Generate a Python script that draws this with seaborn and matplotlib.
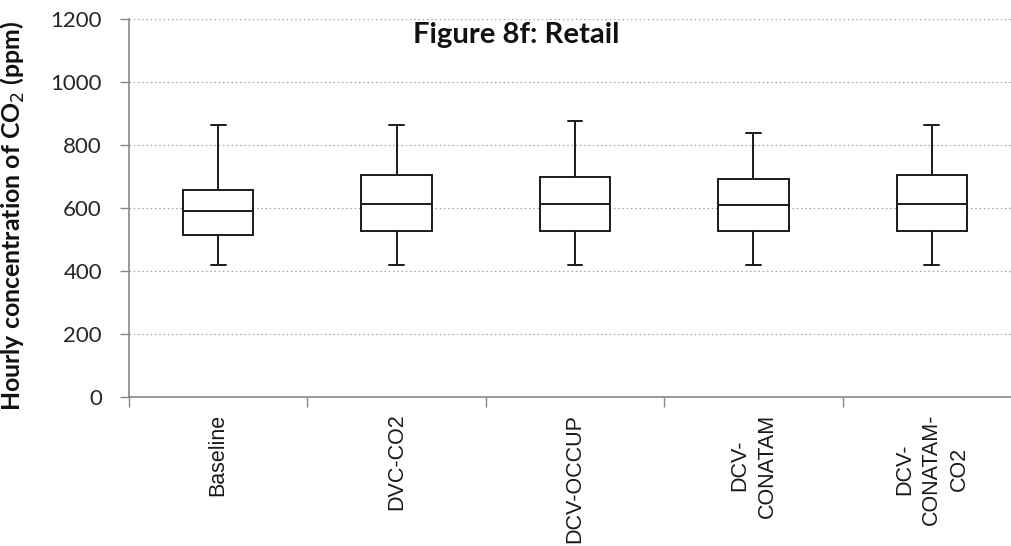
import matplotlib
matplotlib.use("Agg")
import matplotlib.pyplot as plt
import seaborn as sns
import pandas as pd
from matplotlib.ticker import FixedLocator

# ---- data (min, Q1, median, Q3, max) ----
categories = ["Baseline", "DVC-CO2", "DCV-OCCUP", "DCV-\nCONATAM", "DCV-\nCONATAM-\nCO2"]
baseline = [418, 514, 590, 656, 864]
dvc_co2 = [418, 528, 614, 705, 864]
dcv_occup = [418, 528, 614, 700, 875]
dcv_conatam = [418, 528, 609, 691, 839]
dcv_conatam_co2 = [418, 528, 614, 705, 864]
series = [baseline, dvc_co2, dcv_occup, dcv_conatam, dcv_conatam_co2]
yticks = [0, 200, 400, 600, 800, 1000, 1200]
title = "Figure 8f: Retail"
ylabel = "Hourly concentration of CO$_2$ (ppm)"

rows = []
for cat, vals in zip(categories, series):
    for v in vals:
        rows.append({"cat": cat, "val": v})
df = pd.DataFrame(rows)

sns.set_theme(style="white")
plt.rcParams["font.family"] = ["Lato", "DejaVu Sans"]

W, H = 1011, 546
fig = plt.figure(figsize=(W / 100, H / 100), dpi=100)
ax = fig.add_axes([129 / W, 149 / H, 892 / W, 378 / H])

line_kw = dict(color="#1a1a1a", linewidth=1.4)
sns.boxplot(data=df, x="cat", y="val", order=categories, whis=(0, 100),
            width=0.395, ax=ax, color="white", linecolor="#1a1a1a", linewidth=1.4,
            showfliers=False, capwidths=0.082,
            boxprops=dict(facecolor="white", edgecolor="#1a1a1a", linewidth=1.4),
            medianprops=line_kw, whiskerprops=line_kw, capprops=line_kw)

ax.set_xlim(-0.5, 4.5)
ax.set_ylim(0, 1200)
ax.set_yticks(yticks)
ax.set_yticklabels([str(t) for t in yticks])
ax.yaxis.grid(True, linestyle=(0, (1.2, 2.2)), color="#a0a0a0", linewidth=0.9)
ax.xaxis.grid(False)
ax.set_axisbelow(True)

for s in ["top", "right"]:
    ax.spines[s].set_visible(False)
for s in ["left", "bottom"]:
    ax.spines[s].set_color("#888888")
    ax.spines[s].set_linewidth(1.2)

ax.tick_params(axis="y", which="major", direction="out", length=6.5, width=1.0,
               color="#888888", pad=13, labelsize=16, labelcolor="#262626", left=True)
ax.set_xticks(range(len(categories)))
ax.set_xticklabels(categories, rotation=90, fontsize=15.5, family="Liberation Sans",
                   color="#1a1a1a", va="top", ha="center", multialignment="center",
                   linespacing=1.4)
ax.tick_params(axis="x", which="major", length=0, pad=12)
ax.xaxis.set_minor_locator(FixedLocator([-0.5, 0.5, 1.5, 2.5, 3.5, 4.5]))
ax.tick_params(axis="x", which="minor", direction="out", length=7.5, width=1.0,
               color="#888888", bottom=True)
ax.set_xlabel("")
ax.set_ylabel("")

# title and y label placed as in the reference; fit their lengths
renderer = fig.canvas.get_renderer()
t = fig.text(516 / W, 1 - 35 / H, title, ha="center", va="center",
             fontsize=16, fontweight="bold", color="#111111")
bb = t.get_window_extent(renderer)
t.set_fontsize(16 * 207 / bb.width)

yl = fig.text(13 / W, 1 - 215.5 / H, ylabel, ha="center", va="center", rotation=90,
              fontsize=15, fontweight="bold", color="#111111")
bb = yl.get_window_extent(renderer)
yl.set_fontsize(15 * 392 / bb.height)

fig.savefig("out.png", dpi=100)
